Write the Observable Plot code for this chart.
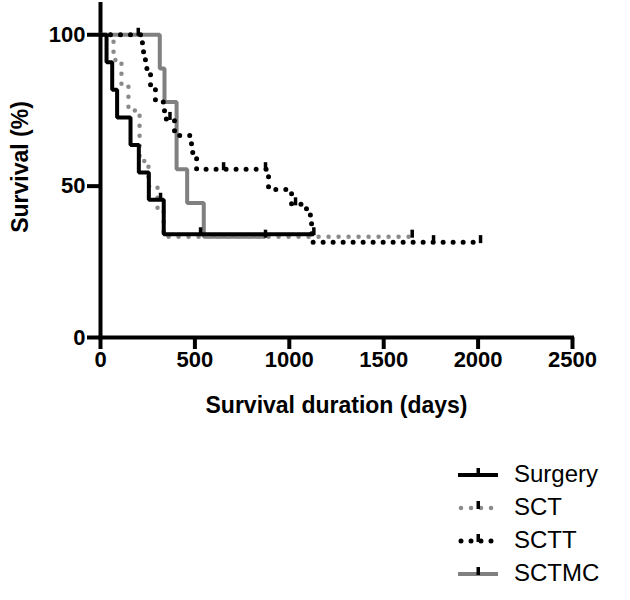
<!DOCTYPE html>
<html><head><meta charset="utf-8">
<script src="https://cdn.jsdelivr.net/npm/d3@7"></script>
<script src="https://cdn.jsdelivr.net/npm/@observablehq/plot@0.6"></script>
<style>
body{margin:0;background:#fff;font-family:"Liberation Sans",Arial,Helvetica,sans-serif;}
#chart{position:absolute;left:0;top:0;}
#legend{position:absolute;left:458px;top:457px;}
.row{display:flex;align-items:center;height:33px;}
.row span{font-size:24px;margin-left:16px;color:#000;line-height:33px;}
.row svg{display:block;}
</style></head><body>
<div id="chart"></div><div id="legend"></div>
<script>
// ---- data ----
const seriesNames = ["Surgery", "SCT", "SCTT", "SCTMC"];

const surgeryDays = [0, 32, 62, 88, 159, 203, 256, 335, 1130];
const surgerySurv = [100, 90.9, 81.8, 72.7, 63.6, 54.5, 45.5, 34.1, 34.1];
const surgeryCensorDays = [318, 530, 1130];
const surgeryCensorSurv = [45.5, 34.1, 34.1];

const sctDays = [0, 69, 111, 148, 207, 254, 302, 334, 1651];
const sctSurv = [100, 91.7, 83.3, 75.0, 58.3, 50.0, 41.7, 33.3, 33.3];
const sctCensorDays = [1651];
const sctCensorSurv = [33.3];

const scttDays = [0, 222, 238, 265, 291, 339, 392, 482, 509, 890, 1012, 1091, 1118, 2013];
const scttSurv = [100, 94.4, 88.9, 83.3, 77.8, 72.2, 66.7, 61.1, 55.6, 48.9, 44.0, 40.5, 31.5, 31.5];
const scttCensorDays = [200, 368, 652, 874, 1033, 1764, 2013];
const scttCensorSurv = [100, 72.2, 55.6, 55.6, 44.0, 31.5, 31.5];

const sctmcDays = [0, 314, 339, 403, 459, 547, 874];
const sctmcSurv = [100, 88.9, 77.8, 55.6, 44.4, 33.3, 33.3];
const sctmcCensorDays = [874];
const sctmcCensorSurv = [33.3];

const xTicks = [0, 500, 1000, 1500, 2000, 2500];
const yTicks = [0, 50, 100];
const xTitle = "Survival duration (days)";
const yTitle = "Survival (%)";

// ---- build tables ----
const toRows = (name, days, surv) => days.map((d, i) => ({series: name, day: d, surv: surv[i]}));
const curves = {
  Surgery: toRows("Surgery", surgeryDays, surgerySurv),
  SCT: toRows("SCT", sctDays, sctSurv),
  SCTT: toRows("SCTT", scttDays, scttSurv),
  SCTMC: toRows("SCTMC", sctmcDays, sctmcSurv)
};
const censors = [
  ...toRows("Surgery", surgeryCensorDays, surgeryCensorSurv),
  ...toRows("SCT", sctCensorDays, sctCensorSurv),
  ...toRows("SCTT", scttCensorDays, scttCensorSurv),
  ...toRows("SCTMC", sctmcCensorDays, sctmcCensorSurv)
];

const styles = {
  Surgery: {stroke: "#000", strokeWidth: 4, dash: null},
  SCT: {stroke: "#8a8a8a", strokeWidth: 4.5, dash: "0 10"},
  SCTT: {stroke: "#000", strokeWidth: 5, dash: "0 10"},
  SCTMC: {stroke: "#808080", strokeWidth: 4, dash: null}
};

const censorSymbol = {draw(ctx) { ctx.rect(-1.75, -7, 3.5, 8); }};

const lineMark = name => Plot.line(curves[name], {
  x: "day", y: "surv", curve: "step-after",
  stroke: styles[name].stroke, strokeWidth: styles[name].strokeWidth,
  strokeDasharray: styles[name].dash, strokeLinecap: styles[name].dash ? "round" : "butt",
  strokeLinejoin: "miter"
});

const chart = Plot.plot({
  width: 630, height: 440,
  marginLeft: 100, marginRight: 58, marginTop: 4, marginBottom: 103,
  style: {fontFamily: "Liberation Sans, Arial, Helvetica, sans-serif", fontSize: "22px", fontWeight: "bold", color: "#000", background: "#fff", overflow: "visible"},
  x: {domain: [0, 2500]},
  y: {domain: [0, 110]},
  marks: [
    Plot.axisX({ticks: xTicks, tickSize: 0, tickPadding: 14, tickFormat: d => String(d), fontSize: 22, fontWeight: "bold", label: null}),
    Plot.axisY({ticks: yTicks, tickSize: 0, tickPadding: 15, tickFormat: d => String(d), fontSize: 22, fontWeight: "bold", label: null}),
    Plot.ruleX(xTicks, {x: d => d, y1: 0, y2: 0, insetBottom: -12, stroke: "#000", strokeWidth: 4}),
    Plot.ruleY(yTicks, {y: d => d, x1: 0, x2: 0, insetLeft: -13, stroke: "#000", strokeWidth: 4}),
    Plot.ruleY([0], {strokeWidth: 4, strokeLinecap: "square"}),
    Plot.ruleX([0], {strokeWidth: 4, strokeLinecap: "square"}),
    lineMark("SCTMC"),
    lineMark("SCT"),
    lineMark("Surgery"),
    lineMark("SCTT"),
    Plot.dot(censors, {x: "day", y: "surv", symbol: censorSymbol, fill: "#000", stroke: null}),
    Plot.text([xTitle], {frameAnchor: "bottom", textAnchor: "middle", dy: 75, fontSize: 23, fontWeight: "bold"}),
    Plot.text([yTitle], {frameAnchor: "left", textAnchor: "middle", rotate: -90, dx: -80, dy: -4, fontSize: 23, fontWeight: "bold"})
  ]
});
document.getElementById("chart").appendChild(chart);

// ---- legend ----
const legend = d3.select("#legend");
seriesNames.forEach(name => {
  const row = legend.append("div").attr("class", "row");
  const svg = row.append("svg").attr("width", 40).attr("height", 20);
  const st = styles[name];
  svg.append("line").attr("x1", st.dash ? 3 : 0).attr("x2", 40).attr("y1", 11).attr("y2", 11)
    .attr("stroke", st.stroke).attr("stroke-width", st.strokeWidth)
    .attr("stroke-dasharray", st.dash).attr("stroke-linecap", st.dash ? "round" : "butt");
  svg.append("rect").attr("x", 18.5).attr("y", 4).attr("width", 3.5).attr("height", 8).attr("fill", "#000");
  row.append("span").text(name);
});
</script>
</body></html>
